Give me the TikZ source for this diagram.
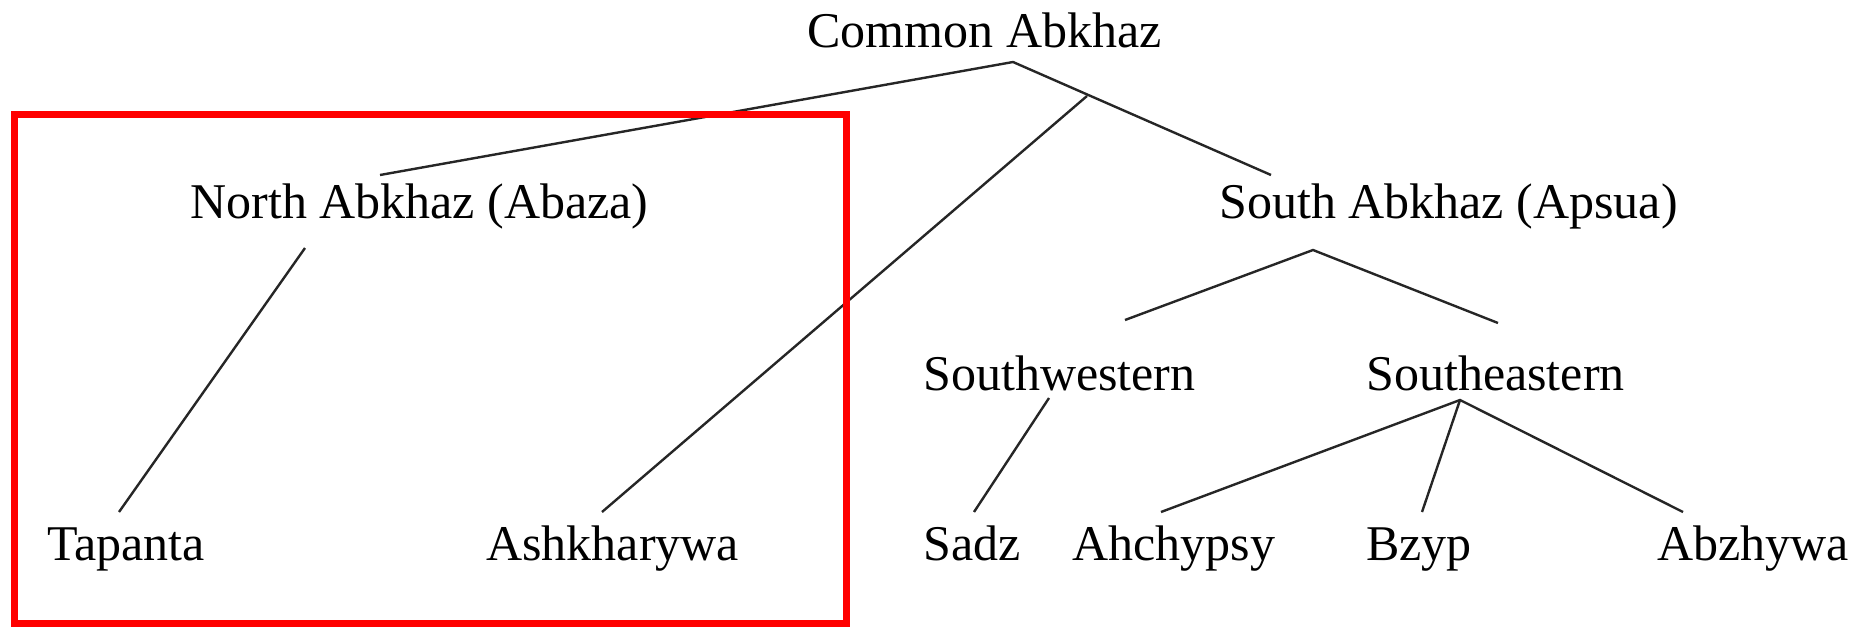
\documentclass[tikz,border=0pt]{standalone}
\usepackage{fontspec}
\setmainfont{Liberation Serif}
\begin{document}
\begin{tikzpicture}[x=0.5pt,y=-0.5pt,
  lbl/.style={anchor=base west,inner sep=0pt,font=\fontsize{25}{30}\selectfont},
  edge/.style={draw=black!85,line width=1.2pt},
  hl/.style={draw=red,line width=3.5pt}]
\useasboundingbox (0,0) rectangle (1861,627);
% labels
\node[lbl] (common) at (807,47) {Common Abkhaz};
\node[lbl] (north) at (190,218) {North Abkhaz (Abaza)};
\node[lbl] (south) at (1219,218) {South Abkhaz (Apsua)};
\node[lbl] (sw) at (923,390) {Southwestern};
\node[lbl] (se) at (1366,390) {Southeastern};
\node[lbl] (tapanta) at (47,560) {Tapanta};
\node[lbl] (ashk) at (486,560) {Ashkharywa};
\node[lbl] (sadz) at (923,560) {Sadz};
\node[lbl] (ahch) at (1072,560) {Ahchypsy};
\node[lbl] (bzyp) at (1366,560) {Bzyp};
\node[lbl] (abzh) at (1657,560) {Abzhywa};
% connector end points
\coordinate (commonB) at (1013,62);
\coordinate (northT) at (380,175);
\coordinate (southT) at (1271,175);
\coordinate (branchA) at (1087,96);
\coordinate (northB) at (305,248);
\coordinate (southB) at (1313,250);
\coordinate (swT) at (1125,320);
\coordinate (seT) at (1498,323);
\coordinate (swB) at (1049,398);
\coordinate (seB) at (1460,400);
\coordinate (tapantaT) at (119,512);
\coordinate (ashkT) at (602,512);
\coordinate (sadzT) at (974,512);
\coordinate (ahchT) at (1161,512);
\coordinate (bzypT) at (1422,512);
\coordinate (abzhT) at (1683,512);
% connectors
\draw[edge] (northT) -- (commonB) -- (southT);
\draw[edge] (branchA) -- (ashkT);
\draw[edge] (northB) -- (tapantaT);
\draw[edge] (swT) -- (southB) -- (seT);
\draw[edge] (swB) -- (sadzT);
\draw[edge] (ahchT) -- (seB) -- (abzhT);
\draw[edge] (seB) -- (bzypT);
% highlight box
\draw[hl] (14,114) rectangle (846,623);
\end{tikzpicture}
\end{document}
